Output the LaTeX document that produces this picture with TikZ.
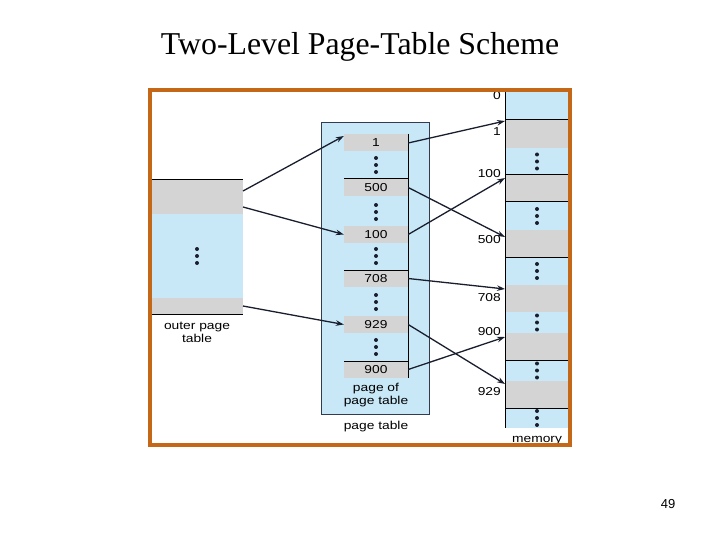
\documentclass[tikz,border=0pt]{standalone}
\usepackage{fontspec}
\setmainfont{Liberation Serif}
\newfontfamily\dfont[FakeStretch=1.2]{Liberation Sans}
\newfontfamily\pnfont{Liberation Sans}
\usetikzlibrary{arrows.meta}
\definecolor{lblue}{RGB}{200,232,248}
\definecolor{lgray}{RGB}{212,212,212}
\definecolor{frameor}{RGB}{196,104,24}
\definecolor{ink}{RGB}{25,30,45}
\definecolor{ptb}{RGB}{50,60,80}
\tikzset{
 entry/.style={fill=lgray, minimum width=64pt, minimum height=17pt, inner sep=0pt, font=\dfont\fontsize{11.5}{11.5}\selectfont},
 lbl/.style={font=\dfont\fontsize{11.5}{13}\selectfont, inner sep=0pt, align=center},
 arr/.style={draw=ink, line width=1.3pt, -{Stealth[length=8pt,width=5.5pt]}},
 dotm/.style={circle, fill=ink, minimum size=4pt, inner sep=0pt},
 sep/.style={draw=black, line width=1pt},
}
\begin{document}
\begin{tikzpicture}[x=1pt,y=-1pt]
\useasboundingbox (0,0) rectangle (720,540);
\fill[white] (0,0) rectangle (720,540);
\node[font=\fontsize{31.8}{32}\selectfont, anchor=base, inner sep=0pt] (title) at (360,55) {Two-Level Page-Table Scheme};

% outer page table
\fill[lblue] (151,214) rectangle (243,298);
\fill[lgray] (151,180) rectangle (243,214);
\fill[lgray] (151,298) rectangle (243,314);
\draw[sep] (151,180) -- (243,180);
\draw[sep] (151,314) -- (243,314);
\foreach \yy in {249,256,263} \node[dotm] at (197,\yy) {};
\coordinate (oa) at (243,191);
\coordinate (ob) at (243,207);
\coordinate (oc) at (243,306);
\node[lbl] (outerlbl) at (197,332.5) {outer page\\table};

% page table
\node[draw=ptb, fill=lblue, line width=1pt, minimum width=108pt, minimum height=292pt, inner sep=0pt, anchor=north west] (pt) at (321,122) {};
\node[entry] (e1) at (376,143) {1};
\node[entry] (e500) at (376,187.5) {500};
\node[entry] (e100) at (376,234.5) {100};
\node[entry] (e708) at (376,278.5) {708};
\node[entry] (e929) at (376,324.5) {929};
\node[entry] (e900) at (376,369.5) {900};
\draw[sep] (344,179) -- (408,179);
\draw[sep] (344,270) -- (408,270);
\draw[sep] (344,361) -- (408,361);
\draw[sep] (408,134) -- (408,378);
\foreach \t in {179,226,270,316,361}{
  \foreach \d in {21,14,7} \node[dotm] at (376,\t-\d) {};
}
\node[lbl] (pgof) at (376,395.5) {page of\\page table};
\node[lbl] (ptlbl) at (376,427) {page table};

% memory
\fill[lblue] (505,92) rectangle (568,428);
\foreach \a/\b in {120/148,175/202,230/257,285/312,333/360,381/408}
  \fill[lgray] (505,\a) rectangle (568,\b);
\foreach \yy in {92,120,175,202,257,360,408}
  \draw[sep] (505,\yy) -- (568,\yy);
\draw[sep] (505,92) -- (505,428);
\foreach \c in {161.5,216,271,322.5,370.5,418}{
  \foreach \d in {-7,0,7} \node[dotm] at (537,\c+\d) {};
}
\node[lbl, anchor=east] (l0) at (501,96) {0};
\node[lbl, anchor=east] (l1) at (501,132) {1};
\node[lbl, anchor=east] (l100) at (501,174) {100};
\node[lbl, anchor=east] (l500) at (501,240) {500};
\node[lbl, anchor=east] (l708) at (501,298) {708};
\node[lbl, anchor=east] (l900) at (501,332) {900};
\node[lbl, anchor=east] (l929) at (501,392) {929};
\node[lbl] (memlbl) at (537,441) {memory};
\coordinate (m1) at (505,121);
\coordinate (m100) at (505,178);
\coordinate (m500) at (505,237);
\coordinate (m708) at (505,289);
\coordinate (m900) at (505,337);
\coordinate (m929) at (505,384);

% arrows
\draw[arr] (oa) -- ([yshift=7pt]e1.west);
\draw[arr] (ob) -- (e100.west);
\draw[arr] (oc) -- (e929.west);
\draw[arr] (e1.east) -- (m1);
\draw[arr] (e500.east) -- (m500);
\draw[arr] (e100.east) -- (m100);
\draw[arr] (e708.east) -- (m708);
\draw[arr] (e929.east) -- (m929);
\draw[arr] (e900.east) -- (m900);

% frame
\draw[frameor, line width=4pt] (150,90) rectangle (570,445);

\node[font=\pnfont\fontsize{13}{13}\selectfont] (pn) at (668,504) {49};
\end{tikzpicture}
\end{document}
